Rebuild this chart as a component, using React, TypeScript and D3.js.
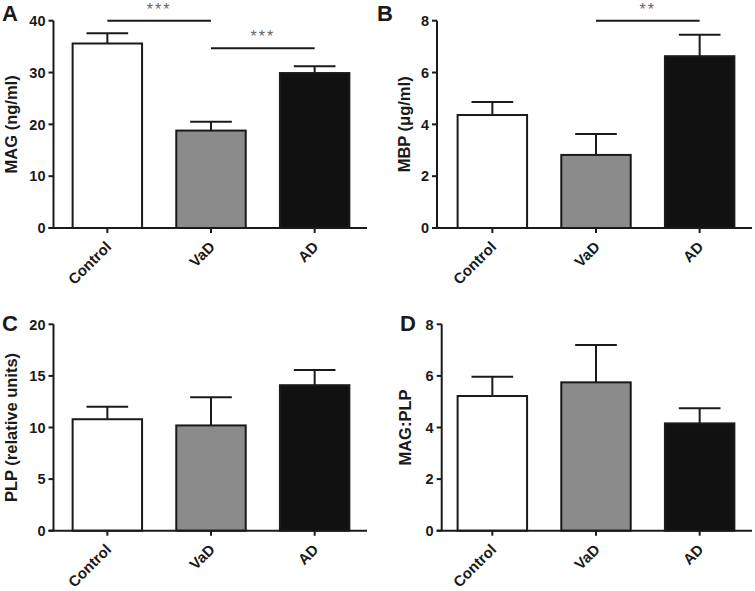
import React, { useEffect, useRef } from "react";
import * as d3 from "d3";

const groups = ["Control", "VaD", "AD"];
const fills = ["#ffffff", "#8b8b8b", "#111111"];

const magMean = [35.6, 18.8, 29.9];
const magErr = [2.0, 1.7, 1.3];
const mbpMean = [4.36, 2.82, 6.63];
const mbpErr = [0.5, 0.81, 0.83];
const plpMean = [10.8, 10.2, 14.1];
const plpErr = [1.2, 2.73, 1.48];
const ratioMean = [5.22, 5.75, 4.16];
const ratioErr = [0.75, 1.45, 0.59];

const magTicks = [0, 10, 20, 30, 40];
const mbpTicks = [0, 2, 4, 6, 8];
const plpTicks = [0, 5, 10, 15, 20];
const ratioTicks = [0, 2, 4, 6, 8];

const magSig = [
  { from: 0, to: 1, y: 40, label: "***" },
  { from: 1, to: 2, y: 34.7, label: "***" },
];
const mbpSig = [{ from: 1, to: 2, y: 8, label: "**" }];

type Sig = { from: number; to: number; y: number; label: string };
type PanelDef = {
  letter: string;
  label: string;
  mean: number[];
  err: number[];
  ticks: number[];
  sig: Sig[];
  axisX: number;
  x0: number;
  x1: number;
  top: number;
  bottom: number;
  letterX: number;
  letterY: number;
  labelX: number;
};

const panels: PanelDef[] = [
  { letter: "A", label: "MAG (ng/ml)", mean: magMean, err: magErr, ticks: magTicks, sig: magSig,
    axisX: 53.5, x0: 55, x1: 367, top: 20.7, bottom: 228, letterX: 2, letterY: 21, labelX: 17 },
  { letter: "B", label: "MBP (\u03bcg/ml)", mean: mbpMean, err: mbpErr, ticks: mbpTicks, sig: mbpSig,
    axisX: 437, x0: 440, x1: 752, top: 20.7, bottom: 228, letterX: 377, letterY: 20.5, labelX: 410 },
  { letter: "C", label: "PLP (relative units)", mean: plpMean, err: plpErr, ticks: plpTicks, sig: [],
    axisX: 53.5, x0: 55, x1: 367, top: 324.3, bottom: 530.7, letterX: 2, letterY: 331, labelX: 17 },
  { letter: "D", label: "MAG:PLP", mean: ratioMean, err: ratioErr, ticks: ratioTicks, sig: [],
    axisX: 441.7, x0: 440, x1: 752, top: 324.3, bottom: 530.7, letterX: 400, letterY: 331, labelX: 411 },
];

const ink = "#1a1a1a";
const font = "'Liberation Sans', Arial, sans-serif";

const App: React.FC = () => {
  const svgRef = useRef<SVGSVGElement>(null);

  useEffect(() => {
    if (!svgRef.current) return;
    const svg = d3.select(svgRef.current);
    svg.selectAll("*").remove();

    panels.forEach((p) => {
      const g = svg.append("g");
      const x = d3.scaleBand<string>()
        .domain(groups)
        .range([p.x0, p.x1])
        .paddingInner(0.33)
        .paddingOuter(0.17);
      const y = d3.scaleLinear()
        .domain([p.ticks[0], p.ticks[p.ticks.length - 1]])
        .range([p.bottom, p.top]);

      const bw = x.bandwidth();
      const capW = bw * 0.6;

      // error bars (upper only), drawn behind bars
      groups.forEach((grp, i) => {
        const cx = (x(grp) ?? 0) + bw / 2;
        g.append("line")
          .attr("x1", cx).attr("x2", cx)
          .attr("y1", y(p.mean[i])).attr("y2", y(p.mean[i] + p.err[i]))
          .attr("stroke", ink).attr("stroke-width", 2);
        g.append("line")
          .attr("x1", cx - capW / 2).attr("x2", cx + capW / 2)
          .attr("y1", y(p.mean[i] + p.err[i])).attr("y2", y(p.mean[i] + p.err[i]))
          .attr("stroke", ink).attr("stroke-width", 2);
      });

      g.selectAll("rect.bar")
        .data(groups)
        .enter()
        .append("rect")
        .attr("class", "bar")
        .attr("x", (d) => x(d) ?? 0)
        .attr("y", (d, i) => y(p.mean[i]))
        .attr("width", bw)
        .attr("height", (d, i) => y(0) - y(p.mean[i]))
        .attr("fill", (d, i) => fills[i])
        .attr("stroke", ink)
        .attr("stroke-width", 2);

      // y axis
      g.append("line")
        .attr("x1", p.axisX).attr("x2", p.axisX)
        .attr("y1", y(p.ticks[p.ticks.length - 1])).attr("y2", y(0))
        .attr("stroke", ink).attr("stroke-width", 2);
      p.ticks.forEach((t) => {
        g.append("line")
          .attr("x1", p.axisX - 5).attr("x2", p.axisX)
          .attr("y1", y(t)).attr("y2", y(t))
          .attr("stroke", ink).attr("stroke-width", 2);
        g.append("text")
          .attr("x", p.axisX - 8).attr("y", y(t))
          .attr("dy", "0.36em")
          .attr("text-anchor", "end")
          .attr("font-family", font).attr("font-weight", "bold").attr("font-size", 14.5)
          .attr("fill", ink)
          .text(t);
      });

      // x axis
      g.append("line")
        .attr("x1", p.axisX - 5).attr("x2", p.x1)
        .attr("y1", y(0)).attr("y2", y(0))
        .attr("stroke", ink).attr("stroke-width", 2);
      groups.forEach((grp) => {
        const cx = (x(grp) ?? 0) + bw / 2;
        g.append("line")
          .attr("x1", cx).attr("x2", cx)
          .attr("y1", y(0)).attr("y2", y(0) + 5)
          .attr("stroke", ink).attr("stroke-width", 2);
        g.append("text")
          .attr("transform", `translate(${cx + 1},${y(0) + 16}) rotate(-45)`)
          .attr("dy", "0.36em")
          .attr("text-anchor", "end")
          .attr("font-family", font).attr("font-weight", "bold").attr("font-size", 15)
          .attr("fill", ink)
          .text(grp);
      });

      // axis title
      g.append("text")
        .attr("transform", `translate(${p.labelX},${(p.top + p.bottom) / 2}) rotate(-90)`)
        .attr("text-anchor", "middle")
        .attr("font-family", font).attr("font-weight", "bold").attr("font-size", 16.5)
        .attr("fill", ink)
        .text(p.label);

      // panel letter
      g.append("text")
        .attr("x", p.letterX).attr("y", p.letterY)
        .attr("font-family", font).attr("font-weight", "bold").attr("font-size", 22)
        .attr("fill", ink)
        .text(p.letter);

      // significance brackets
      p.sig.forEach((s) => {
        const xa = (x(groups[s.from]) ?? 0) + bw / 2;
        const xb = (x(groups[s.to]) ?? 0) + bw / 2;
        g.append("line")
          .attr("x1", xa).attr("x2", xb)
          .attr("y1", y(s.y)).attr("y2", y(s.y))
          .attr("stroke", ink).attr("stroke-width", 2);
        g.append("text")
          .attr("x", (xa + xb) / 2).attr("y", y(s.y) - 6)
          .attr("text-anchor", "middle")
          .attr("font-family", font).attr("font-size", 16)
          .attr("letter-spacing", 2)
          .attr("fill", "#666")
          .text(s.label);
      });
    });
  }, []);

  return (
    <svg
      ref={svgRef}
      width={755}
      height={591}
      style={{ position: "absolute", left: 0, top: 0, background: "#fff" }}
    />
  );
};

export default App;
